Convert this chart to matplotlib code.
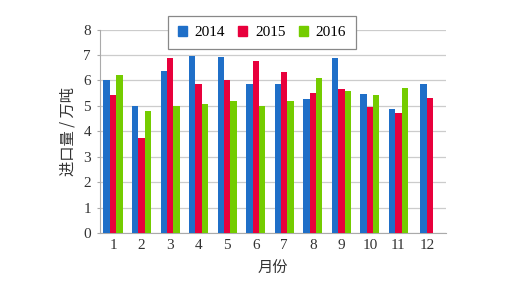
import numpy as np
import matplotlib
matplotlib.use("Agg")
import matplotlib.pyplot as plt

months = ["1", "2", "3", "4", "5", "6", "7", "8", "9", "10", "11", "12"]
series_names = ["2014", "2015", "2016"]
v2014 = [6.0, 5.0, 6.38, 6.97, 6.9, 5.87, 5.87, 5.25, 6.89, 5.48, 4.86, 5.84]
v2015 = [5.42, 3.72, 6.89, 5.84, 6.02, 6.77, 6.34, 5.49, 5.65, 4.94, 4.73, 5.29]
v2016 = [6.23, 4.8, 5.0, 5.07, 5.19, 5.0, 5.19, 6.1, 5.58, 5.44, 5.7, np.nan]
colors = ["#1f6fc8", "#e8003c", "#74cc00"]
yticks = [0, 1, 2, 3, 4, 5, 6, 7, 8]

serif = ["Liberation Serif", "DejaVu Serif"]
cjk = ["Noto Sans CJK SC", "DejaVu Sans"]

fig = plt.figure(figsize=(5.2, 2.82), dpi=100)
ax = fig.add_axes([100/520, 1-233/282, 346/520, (233-29.5)/282])

data = [v2014, v2015, v2016]
w = 0.225
x = np.arange(1, len(months) + 1)
handles = []
for i in range(len(months)):
    present = [k for k in range(3) if not np.isnan(data[k][i])]
    n = len(present)
    for j, k in enumerate(present):
        off = (j - (n - 1) / 2) * w
        ax.bar(x[i] + off, data[k][i], width=w, color=colors[k], linewidth=0, zorder=3)
for k in range(3):
    handles.append(plt.Rectangle((0, 0), 1, 1, color=colors[k]))

ax.set_xlim(0.54, 12.67)
ax.set_ylim(0, 8)
ax.set_yticks(yticks)
ax.set_yticklabels([str(t) for t in yticks], family=serif, fontsize=11, color="#333333")
ax.set_xticks(x)
ax.set_xticklabels(months, family=serif, fontsize=11, color="#333333")
ax.tick_params(axis="x", length=0, pad=4)
ax.tick_params(axis="y", length=2.5, width=0.8, color="#aaaaaa", pad=4)
ax.grid(axis="y", color="#cccccc", linewidth=0.9, zorder=0)
for s in ["top", "right"]:
    ax.spines[s].set_visible(False)
ax.spines["left"].set_color("#aaaaaa")
ax.spines["bottom"].set_color("#aaaaaa")

ax.set_ylabel("进口量 / 万吨", family=cjk, fontsize=11, color="#333333", labelpad=5)
ax.set_xlabel("月份", family=cjk, fontsize=11, color="#333333", labelpad=6)

leg = ax.legend(handles, series_names, loc="upper left", bbox_to_anchor=(68/346, 1.065),
                ncol=3, frameon=True, fancybox=False, prop={"family": serif, "size": 11},
                handlelength=0.6, handleheight=0.6, handletextpad=0.5, columnspacing=0.85,
                borderpad=0.65, borderaxespad=0)
leg.get_frame().set_edgecolor("#888888")
leg.get_frame().set_linewidth(0.9)
leg.get_frame().set_alpha(1)
leg.set_zorder(5)

fig.savefig("out.png", dpi=100)
